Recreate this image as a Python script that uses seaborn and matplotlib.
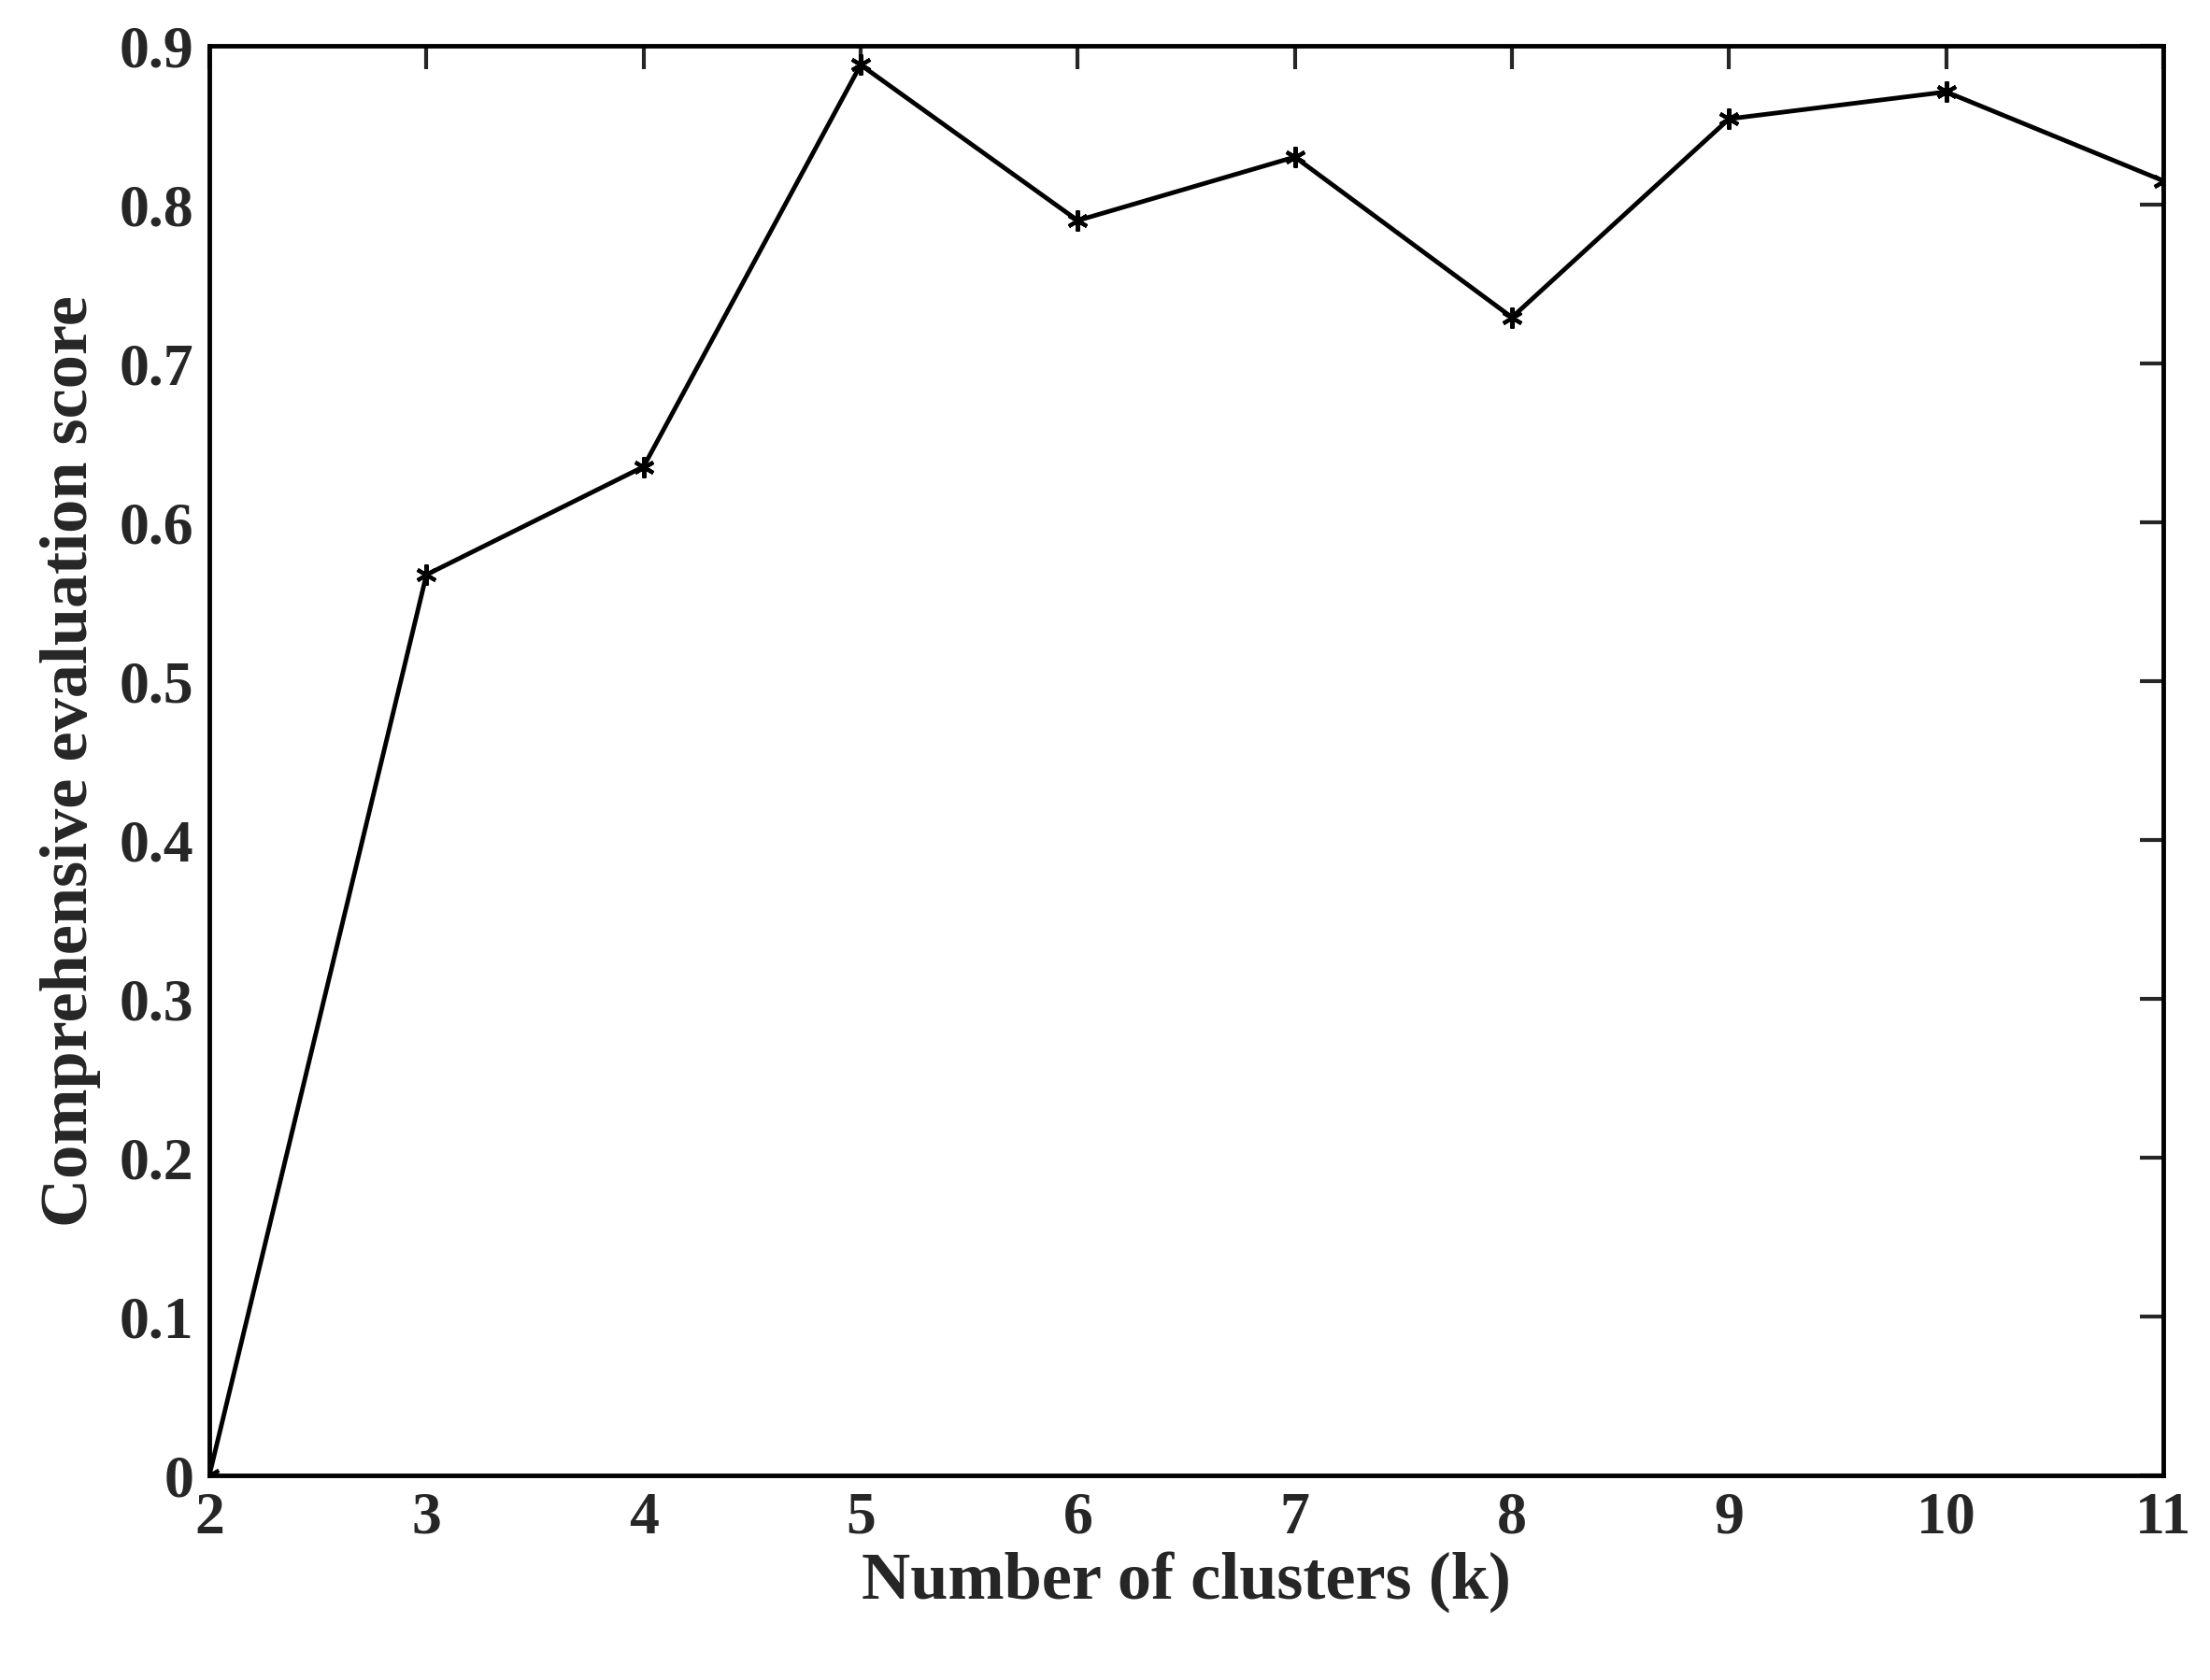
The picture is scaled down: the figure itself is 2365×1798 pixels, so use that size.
import matplotlib
matplotlib.use("Agg")
import matplotlib.pyplot as plt
import seaborn as sns
import pandas as pd

clusters = [2, 3, 4, 5, 6, 7, 8, 9, 10, 11]
scores = [0.0, 0.567, 0.635, 0.888, 0.790, 0.830, 0.729, 0.854, 0.871, 0.815]
yticks = [0, 0.1, 0.2, 0.3, 0.4, 0.5, 0.6, 0.7, 0.8, 0.9]
ytick_labels = ["0", "0.1", "0.2", "0.3", "0.4", "0.5", "0.6", "0.7", "0.8", "0.9"]

sns.set_style("white")
plt.rcParams['font.family'] = ['Liberation Serif', 'DejaVu Serif']
plt.rcParams['font.weight'] = 'bold'

df = pd.DataFrame({'k': clusters, 'score': scores})

fig = plt.figure(figsize=(23.65, 17.99), dpi=100)
ax = fig.add_axes([224 / 2365, 1 - 1580 / 1799, (2315 - 224) / 2365, (1580 - 50) / 1799])
sns.lineplot(data=df, x='k', y='score', ax=ax, color='black', linewidth=3.5,
             marker=(6, 2, 0), markersize=16, markeredgewidth=3, markeredgecolor='black')

ax.set_xlim(2, 11)
ax.set_ylim(0, 0.9)
ax.set_xticks(clusters)
ax.set_xticklabels([str(c) for c in clusters], fontsize=46, fontweight='bold')
ax.set_yticks(yticks)
ax.set_yticklabels(ytick_labels, fontsize=46, fontweight='bold')
ax.tick_params(direction='in', length=18, width=3, top=True, right=True, pad=12)
for s in ax.spines.values():
    s.set_linewidth(3.5)
    s.set_color('black')
ax.set_xlabel('Number of clusters (k)', fontsize=52, fontweight='bold', labelpad=4)
ax.set_ylabel('Comprehensive evaluation score', fontsize=52, fontweight='bold', labelpad=14)

fig.savefig('out.png', dpi=100, facecolor='white')
